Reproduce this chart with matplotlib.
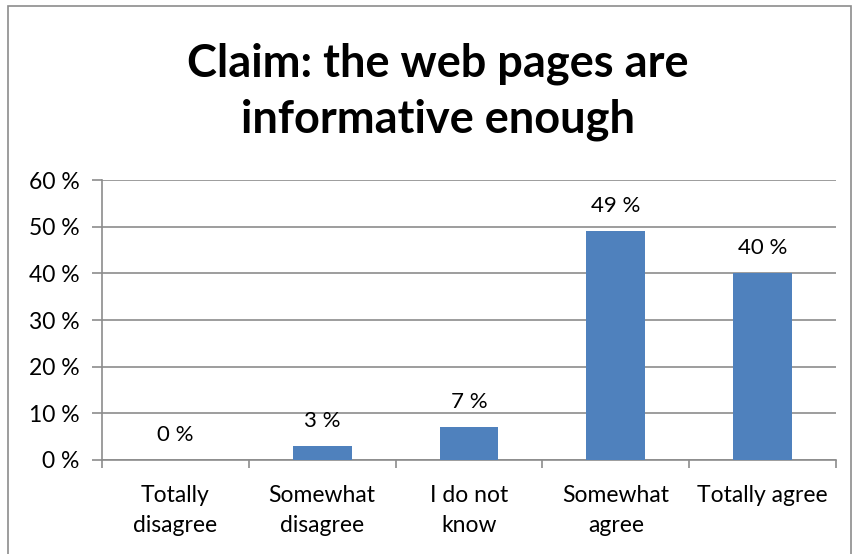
import matplotlib
matplotlib.use("agg")
from matplotlib import pyplot
from matplotlib.patches import Rectangle

categories = ["Totally\ndisagree", "Somewhat\ndisagree", "I do not\nknow",
              "Somewhat\nagree", "Totally agree"]
values = [0, 3, 7, 49, 40]
yticks = [0, 10, 20, 30, 40, 50, 60]
title = "Claim: the web pages are\ninformative enough"

pyplot.rcParams["font.family"] = ["Lato", "DejaVu Sans"]

W, H = 854, 554
fig = pyplot.figure(figsize=(W / 100, H / 100), dpi=100)
ax = fig.add_axes([102 / W, 1 - 460 / H, (836 - 102) / W, (460 - 180) / H])

# chart border
fig.patches.append(Rectangle((8 / W, -0.01), (851 - 8) / W, 1 - 6 / H + 0.01,
                             transform=fig.transFigure, fill=False,
                             edgecolor="#8c8c8c", linewidth=1.2))

x = list(range(len(values)))
ax.bar(x, values, width=0.4, color="#4f81bd", zorder=3)
for xi, v in zip(x, values):
    ax.text(xi, v + 3.2, "{0} %".format(v), ha="center", va="bottom",
            fontsize=16, color="#000000")

ax.set_xlim(-0.5, len(values) - 0.5)
ax.set_ylim(0, 60)
ax.set_yticks(yticks)
ax.set_yticklabels(["{0} %".format(t) for t in yticks], fontsize=16.5)
ax.yaxis.grid(True, color="#8c8c8c", linewidth=1.2, zorder=0)
ax.tick_params(axis="y", length=7, width=1.2, color="#8c8c8c", pad=9)

ax.set_xticks(x)
ax.set_xticklabels(categories, fontsize=16.5, linespacing=1.5)
ax.tick_params(axis="x", length=0, pad=18)
ax.set_xticks([i - 0.5 for i in range(len(values) + 1)], minor=True)
ax.tick_params(axis="x", which="minor", length=6, width=1.2, color="#8c8c8c")

for side in ["top", "right"]:
    ax.spines[side].set_visible(False)
for side in ["left", "bottom"]:
    ax.spines[side].set_color("#8c8c8c")
    ax.spines[side].set_linewidth(1.2)

fig.text(438 / W, 1 - 92 / H, title, ha="center", va="center",
         fontsize=32.5, fontweight="bold", linespacing=1.4)

pyplot.savefig("out.png", dpi=100)
